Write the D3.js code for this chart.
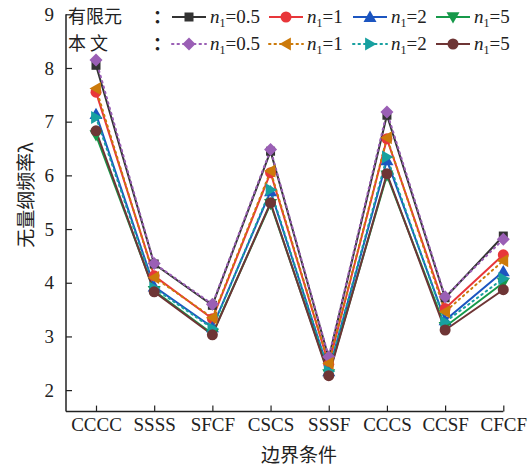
<!DOCTYPE html>
<html><head><meta charset="utf-8">
<script src="https://cdn.jsdelivr.net/npm/d3@7"></script>
<style>
html,body{margin:0;padding:0;background:#fff;}
svg text{font-family:"Liberation Serif","Times New Roman","Noto Sans CJK SC",serif;fill:#222;}
</style></head>
<body><svg id="c" width="531" height="468"></svg>
<script>
const categories = ["CCCC","SSSS","SFCF","CSCS","SSSF","CCCS","CCSF","CFCF"];
const yTicks = [2,3,4,5,6,7,8,9];
// 有限元 (FE)
const fe05 = [8.05,4.35,3.58,6.45,2.60,7.12,3.72,4.87];
const fe1  = [7.55,4.13,3.33,6.05,2.48,6.68,3.52,4.52];
const fe2  = [7.14,3.93,3.17,5.70,2.35,6.28,3.30,4.21];
const fe5  = [6.75,3.85,3.05,5.47,2.30,6.00,3.18,4.00];
// 本文 (present)
const pr05 = [8.15,4.36,3.60,6.48,2.62,7.18,3.74,4.81];
const pr1  = [7.62,4.10,3.35,6.08,2.50,6.70,3.46,4.41];
const pr2  = [7.08,3.90,3.15,5.73,2.35,6.34,3.27,4.08];
const pr5  = [6.83,3.83,3.03,5.49,2.27,6.03,3.12,3.87];
const legendLabels = ["0.5","1","2","5"];

const series = [
  {v:fe05, c:"#333333", m:"square", dash:null},
  {v:fe1,  c:"#e8363a", m:"circle", dash:null},
  {v:fe2,  c:"#1c55c0", m:"triUp", dash:null},
  {v:fe5,  c:"#16994a", m:"triDown", dash:null},
  {v:pr05, c:"#9a5fb5", m:"diamond", dash:"1.5,4"},
  {v:pr1,  c:"#cc7a0a", m:"triLeft", dash:"1.5,4"},
  {v:pr2,  c:"#17a0a0", m:"triRight", dash:"1.5,4"},
  {v:pr5,  c:"#6e3535", m:"circle", dash:null}
];

const svg = d3.select("#c");
const x = d3.scalePoint().domain(categories).range([96,503.3]);
const y = d3.scaleLinear().domain([1.6,9]).range([411.6,14.3]);
const axLeft = 66, axRight = 503.3;

// axes
const gx = svg.append("g").attr("transform","translate(0,411.6)")
  .call(d3.axisBottom(x).tickSizeInner(-6).tickSizeOuter(0).tickPadding(6));
gx.select(".domain").remove();
gx.append("line").attr("x1",axLeft).attr("x2",axRight).attr("stroke","#222").attr("stroke-width",1.5);
gx.selectAll(".tick line").attr("stroke","#222").attr("stroke-width",1.2);
gx.selectAll(".tick text").attr("font-size",19).attr("fill","#222");

const gy = svg.append("g").attr("transform",`translate(${axLeft},0)`)
  .call(d3.axisLeft(y).tickValues(yTicks).tickFormat(d3.format("d")).tickSizeInner(-6).tickSizeOuter(0).tickPadding(12));
gy.select(".domain").remove();
gy.append("line").attr("y1",y(9)).attr("y2",411.6).attr("stroke","#222").attr("stroke-width",1.5);
gy.selectAll(".tick line").attr("stroke","#222").attr("stroke-width",1.2);
gy.selectAll(".tick text").attr("font-size",19).attr("fill","#222");

// titles
svg.append("text").attr("x",299).attr("y",462).attr("text-anchor","middle")
  .attr("font-size",19).style("font-family","'Noto Sans CJK SC',sans-serif").text("边界条件");
svg.append("text").attr("transform","translate(33,195) rotate(-90)").attr("text-anchor","middle")
  .attr("font-size",19).style("font-family","'Noto Sans CJK SC',sans-serif").text("无量纲频率λ");

// marker drawing
function marker(g, type, cx, cy, color, s){
  s = s || 1;
  let p;
  if(type==="square") p = g.append("rect").attr("x",cx-4.5*s).attr("y",cy-4.5*s).attr("width",9*s).attr("height",9*s);
  else if(type==="circle") p = g.append("circle").attr("cx",cx).attr("cy",cy).attr("r",5.5*s);
  else {
    let pts;
    const r=6.5*s;
    if(type==="triUp") pts=[[0,-r],[r,r*0.75],[-r,r*0.75]];
    else if(type==="triDown") pts=[[0,r],[r,-r*0.75],[-r,-r*0.75]];
    else if(type==="triLeft") pts=[[-r,0],[r*0.75,-r],[r*0.75,r]];
    else if(type==="triRight") pts=[[r,0],[-r*0.75,-r],[-r*0.75,r]];
    else if(type==="diamond") pts=[[0,-r],[r,0],[0,r],[-r,0]];
    p = g.append("polygon").attr("points",pts.map(q=>[cx+q[0],cy+q[1]].join(",")).join(" "));
  }
  p.attr("fill",color);
}

const line = d3.line().x((d,i)=>x(categories[i])).y(d=>y(d));
const plot = svg.append("g");
series.forEach(s=>{
  plot.append("path").datum(s.v).attr("d",line).attr("fill","none")
    .attr("stroke",s.c).attr("stroke-width",2)
    .attr("stroke-dasharray",s.dash).attr("stroke-linecap",s.dash?"round":"butt");
});
const mk = svg.append("g");
series.forEach(s=>{
  s.v.forEach((d,i)=>marker(mk,s.m,x(categories[i]),y(d),s.c));
});

// legend
const lg = svg.append("g");
const rows = [{label:"有限元", y:17, set:series.slice(0,4)},{label:"本 文", y:44, set:series.slice(4)}];
const itemX = [172,269,353,436];
rows.forEach(r=>{
  lg.append("text").attr("x",68).attr("y",r.y+6).attr("font-size",18)
    .style("font-family","'Noto Sans CJK SC',sans-serif").text(r.label);
  lg.append("text").attr("x",153).attr("y",r.y+6).attr("font-size",18).attr("font-weight","bold")
    .style("font-family","'Noto Sans CJK SC',sans-serif").text("：");
  r.set.forEach((s,i)=>{
    const x0=itemX[i];
    lg.append("line").attr("x1",x0).attr("x2",x0+34).attr("y1",r.y).attr("y2",r.y)
      .attr("stroke",s.c).attr("stroke-width",2).attr("stroke-dasharray",s.dash).attr("stroke-linecap",s.dash?"round":"butt");
    marker(lg,s.m,x0+17,r.y,s.c);
    const t=lg.append("text").attr("x",x0+38).attr("y",r.y+6).attr("font-size",19);
    t.append("tspan").attr("font-style","italic").text("n");
    t.append("tspan").attr("font-size",12).attr("dy",4).text("1");
    t.append("tspan").attr("dy",-4).text("=" + legendLabels[i]);
  });
});
</script></body></html>
